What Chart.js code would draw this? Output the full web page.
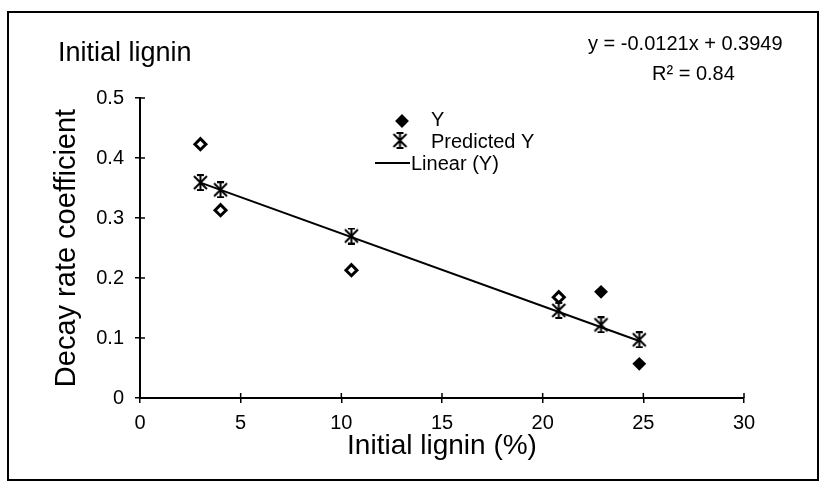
<!DOCTYPE html>
<html>
<head>
<meta charset="utf-8">
<script src="https://cdn.jsdelivr.net/npm/chart.js@4.4.1/dist/chart.umd.min.js"></script>
<style>
  html, body { margin: 0; padding: 0; background: #fff; }
  canvas { display: block; }
</style>
</head>
<body>
<canvas id="grafico" width="823" height="483"></canvas>
<script>
// Datos
const ligninX = [3.0, 4.0, 10.5, 20.8, 22.9, 24.8];
const decayY = [0.423, 0.313, 0.213, 0.168, 0.177, 0.057];
const predictedY = [0.359, 0.347, 0.270, 0.146, 0.122, 0.097];
const trendX = [3.0, 24.8];
const trendY = [0.359, 0.095];
const xTicks = [0, 5, 10, 15, 20, 25, 30];
const yTicks = [0, 0.1, 0.2, 0.3, 0.4, 0.5];

const FONT = '"Liberation Sans", Arial, sans-serif';

// Marcador de asterisco (estilo Excel)
function crearAsterisco() {
  const c = document.createElement("canvas");
  c.width = 17;
  c.height = 17;
  const g = c.getContext("2d");
  g.strokeStyle = "#000";
  g.lineWidth = 2;
  g.beginPath();
  g.moveTo(2, 2); g.lineTo(15, 15);
  g.moveTo(15, 2); g.lineTo(2, 15);
  g.moveTo(8.5, 1); g.lineTo(8.5, 16);
  g.moveTo(5, 1); g.lineTo(12, 1);
  g.moveTo(5, 16); g.lineTo(12, 16);
  g.stroke();
  return c;
}
const asterisco = crearAsterisco();

function dibujarDiamante(ctx, x, y, r, relleno) {
  ctx.beginPath();
  ctx.moveTo(x, y - r);
  ctx.lineTo(x + r, y);
  ctx.lineTo(x, y + r);
  ctx.lineTo(x - r, y);
  ctx.closePath();
  ctx.fillStyle = relleno;
  ctx.fill();
  ctx.lineWidth = 2;
  ctx.strokeStyle = "#000";
  ctx.stroke();
}

// Marco, marcas interiores de los ejes y textos
const decorado = {
  id: "decorado",
  beforeDraw(chart) {
    const ctx = chart.ctx;
    ctx.save();
    ctx.fillStyle = "#fff";
    ctx.fillRect(0, 0, chart.width, chart.height);
    ctx.lineWidth = 2;
    ctx.strokeStyle = "#000";
    ctx.strokeRect(8, 12, 810, 468);
    ctx.restore();
  },
  afterDraw(chart) {
    const ctx = chart.ctx;
    const { x, y } = chart.scales;
    const area = chart.chartArea;
    ctx.save();
    ctx.strokeStyle = "#000";
    ctx.lineWidth = 1.5;
    ctx.beginPath();
    xTicks.forEach((v) => {
      const px = x.getPixelForValue(v);
      ctx.moveTo(px, area.bottom);
      ctx.lineTo(px, area.bottom - 5);
    });
    yTicks.forEach((v) => {
      const py = y.getPixelForValue(v);
      ctx.moveTo(area.left, py);
      ctx.lineTo(area.left + 5, py);
    });
    ctx.stroke();

    ctx.fillStyle = "#000";
    ctx.textBaseline = "alphabetic";
    ctx.textAlign = "left";
    ctx.font = "27px " + FONT;
    ctx.fillText("Initial lignin", 58, 61);

    ctx.font = "20px " + FONT;
    ctx.fillText("y = -0.0121x + 0.3949", 588, 50);
    ctx.fillText("R² = 0.84", 652, 80);

    // Leyenda
    dibujarDiamante(ctx, 402, 121, 5.5, "#000");
    ctx.drawImage(asterisco, 391.5, 132);
    ctx.lineWidth = 2;
    ctx.beginPath();
    ctx.moveTo(375, 163);
    ctx.lineTo(410, 163);
    ctx.stroke();
    ctx.font = "20px " + FONT;
    ctx.fillText("Y", 431, 126);
    ctx.fillText("Predicted Y", 431, 148);
    ctx.fillText("Linear (Y)", 411, 170);
    ctx.restore();
  },
};

const ctx = document.getElementById("grafico").getContext("2d");

new Chart(ctx, {
  type: "scatter",
  data: {
    datasets: [
      {
        label: "Linear (Y)",
        data: trendX.map((v, i) => ({ x: v, y: trendY[i] })),
        showLine: true,
        borderColor: "#000",
        borderWidth: 2,
        pointRadius: 0,
        order: 3,
      },
      {
        label: "Predicted Y",
        data: ligninX.map((v, i) => ({ x: v, y: predictedY[i] })),
        pointStyle: asterisco,
        pointRadius: 8,
        order: 2,
      },
      {
        label: "Y",
        data: ligninX.map((v, i) => ({ x: v, y: decayY[i] })),
        pointStyle: "rectRot",
        pointRadius: 5.5,
        borderWidth: (c) => (c.dataIndex < 4 ? 3 : 2),
        borderColor: "#000",
        backgroundColor: (c) => (c.dataIndex < 4 ? "#fff" : "#000"),
        order: 1,
      },
    ],
  },
  options: {
    responsive: false,
    animation: false,
    layout: { padding: { left: 0, top: 98, right: 79, bottom: 0 } },
    plugins: {
      legend: { display: false },
      tooltip: { enabled: false },
    },
    scales: {
      x: {
        type: "linear",
        min: 0,
        max: 30,
        afterFit: (s) => { s.height = 85; },
        afterBuildTicks: (s) => { s.ticks = xTicks.map((v) => ({ value: v })); },
        ticks: { color: "#000", font: { size: 20, family: FONT }, padding: 8, maxRotation: 0 },
        grid: { drawOnChartArea: false, tickLength: 5, color: "#000", lineWidth: 1.5 },
        border: { color: "#000", width: 2 },
        title: {
          display: true,
          text: "Initial lignin (%)",
          color: "#000",
          font: { size: 28, family: FONT },
          padding: { top: 0, bottom: 20 },
        },
      },
      y: {
        type: "linear",
        min: 0,
        max: 0.5,
        afterFit: (s) => { s.width = 140; },
        afterBuildTicks: (s) => { s.ticks = yTicks.map((v) => ({ value: v })); },
        ticks: { color: "#000", font: { size: 20, family: FONT }, padding: 11 },
        grid: { drawOnChartArea: false, tickLength: 5, color: "#000", lineWidth: 1.5 },
        border: { color: "#000", width: 2 },
        title: {
          display: true,
          text: "Decay rate coefficient",
          color: "#000",
          font: { size: 29, family: FONT },
          padding: { top: 50, bottom: 0 },
        },
      },
    },
  },
  plugins: [decorado],
});
</script>
</body>
</html>
